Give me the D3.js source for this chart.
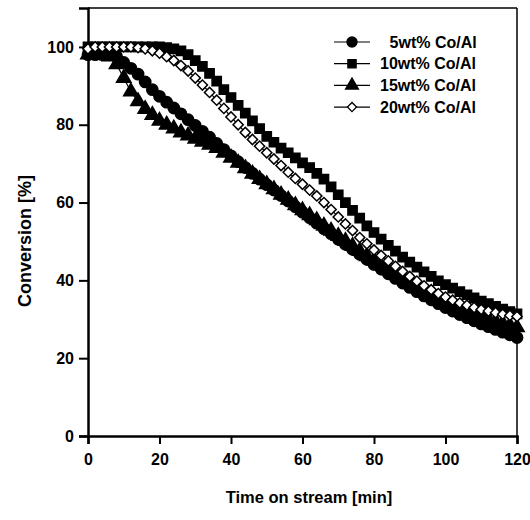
<!DOCTYPE html>
<html>
<head>
<meta charset="utf-8">
<script src="https://cdn.jsdelivr.net/npm/d3@7"></script>
<style>
  body { margin: 0; background: #fff; }
  text { font-family: "Liberation Sans", Arial, sans-serif; font-weight: bold; fill: #000; }
</style>
</head>
<body>
<svg id="chart" width="530" height="520"></svg>
<script>
// time on stream, minutes (one point every 2 min)
var times = d3.range(0, 121, 2);

var co5 = [98, 98, 98, 98, 97.5, 96, 94.5, 93, 91, 89,
  87.3, 85.8, 84.3, 82.8, 81.3, 79.8, 78.3, 76.8, 75.2, 73.6,
  72, 70.5, 69, 67.5, 66, 64.6, 63.2, 61.8, 60.4, 58.9,
  57.5, 56.1, 54.7, 53.3, 52, 50.6, 49.3, 48, 46.7, 45.4,
  44.1, 42.9, 41.7, 40.5, 39.3, 38.2, 37.1, 36, 35, 34,
  33, 32.1, 31.2, 30.4, 29.6, 28.8, 28.1, 27.4, 26.7, 26, 25.3];

var co10 = [100, 100, 100, 100, 100, 100, 100, 100, 100, 100,
  100, 99.8, 99.5, 99, 98, 96.5, 95, 93.2, 91.2, 89,
  87, 85, 83, 81, 79, 77, 75.5, 74, 72.8, 71.5,
  70.2, 69, 67.5, 66, 64, 62, 60, 58, 56, 54,
  52.3, 50.6, 49, 47.5, 46, 44.7, 43.4, 42.2, 41, 39.9,
  38.9, 38, 37.1, 36.3, 35.5, 34.7, 34, 33.3, 32.6, 32, 31.4];

var co15 = [98, 98, 98, 97.5, 95.5, 92, 88.5, 86, 84, 82.5,
  81, 80, 79, 78, 77.2, 76.4, 75.6, 74.8, 74, 72.8,
  71.5, 70.2, 68.8, 67.4, 66, 64.7, 63.4, 62, 60.7, 59.3,
  58, 56.7, 55.4, 54, 52.7, 51.4, 50.1, 48.8, 47.5, 46.2,
  45, 43.8, 42.6, 41.5, 40.4, 39.3, 38.3, 37.3, 36.3, 35.4,
  34.5, 33.7, 32.9, 32.1, 31.4, 30.7, 30.1, 29.5, 28.9, 28.4, 27.9];

var co20 = [99.5, 100, 100, 100, 100, 100, 100, 99.8, 99.5, 99,
  98.4, 97.5, 96.5, 95.2, 93.8, 92, 90.2, 88.3, 86.3, 84.2,
  82, 80, 78, 76.2, 74.5, 72.8, 71.2, 69.5, 67.8, 66.2,
  64.7, 63.2, 61.7, 60, 58.2, 56.3, 54.5, 52.8, 51, 49.4,
  47.8, 46.4, 45, 43.6, 42.3, 41, 39.8, 38.6, 37.6, 36.6,
  35.7, 34.9, 34.2, 33.6, 33, 32.5, 32.1, 31.7, 31.3, 31, 30.7];

var seriesNames = ["5wt% Co/Al", "10wt% Co/Al", "15wt% Co/Al", "20wt% Co/Al"];
var xTicks = [0, 20, 40, 60, 80, 100, 120];
var yTicks = [0, 20, 40, 60, 80, 100];

// diamond drawn as a square turned 45deg
var series = [
  {name: seriesNames[0], values: co5,  shape: d3.symbolCircle,   size: 100, rot: 0,  filled: true},
  {name: seriesNames[1], values: co10, shape: d3.symbolSquare,   size: 85,  rot: 0,  filled: true},
  {name: seriesNames[2], values: co15, shape: d3.symbolTriangle, size: 90,  rot: 0,  filled: true},
  {name: seriesNames[3], values: co20, shape: d3.symbolSquare,   size: 52,  rot: 45, filled: false}
];

var svg = d3.select("#chart");
var margin = {top: 8, right: 13, bottom: 84, left: 88};
var W = 530 - margin.left - margin.right;
var H = 520 - margin.top - margin.bottom;

var x = d3.scaleLinear().domain([0, 120]).range([0, W]);
var y = d3.scaleLinear().domain([0, 110]).range([H, 0]);

var g = svg.append("g").attr("transform", "translate(" + margin.left + "," + margin.top + ")");

// frame (top + right)
g.append("line").attr("x1", 0).attr("x2", W).attr("y1", 0).attr("y2", 0)
  .attr("stroke", "#000").attr("stroke-width", 1.5);
g.append("line").attr("x1", W).attr("x2", W).attr("y1", 0).attr("y2", H)
  .attr("stroke", "#000").attr("stroke-width", 1.5);

var xAxis = g.append("g").attr("transform", "translate(0," + H + ")")
  .call(d3.axisBottom(x).tickValues(xTicks).tickSize(8).tickPadding(10));
var yAxis = g.append("g")
  .call(d3.axisLeft(y).tickValues(yTicks).tickSize(9).tickPadding(5));

[xAxis, yAxis].forEach(function(a){
  a.select(".domain").attr("stroke-width", 2.5);
  a.selectAll(".tick line").attr("stroke-width", 2);
  a.selectAll(".tick text").style("font-size", "16px").attr("font-family", null);
});

// series
var line = d3.line()
  .x(function(d, i){ return x(times[i]); })
  .y(function(d){ return y(d); });

series.forEach(function(s){
  g.append("path").datum(s.values)
    .attr("fill", "none").attr("stroke", "#000").attr("stroke-width", 1.2)
    .attr("d", line);
  g.selectAll(null).data(s.values).enter().append("path")
    .attr("d", d3.symbol().type(s.shape).size(s.size))
    .attr("transform", function(d, i){
      return "translate(" + x(times[i]) + "," + y(d) + ") rotate(" + s.rot + ")";
    })
    .attr("fill", s.filled ? "#000" : "#fff")
    .attr("stroke", "#000").attr("stroke-width", 1.5);
});

// legend
var legend = svg.append("g");
series.forEach(function(s, i){
  var ly = 42 + i * 21.7;
  legend.append("line").attr("x1", 334).attr("x2", 370).attr("y1", ly).attr("y2", ly)
    .attr("stroke", "#000").attr("stroke-width", 1.2);
  legend.append("path")
    .attr("d", d3.symbol().type(s.shape).size(s.size * 0.8))
    .attr("transform", "translate(352," + ly + ") rotate(" + s.rot + ")")
    .attr("fill", s.filled ? "#000" : "#fff")
    .attr("stroke", "#000").attr("stroke-width", 1.3);
  legend.append("text").attr("x", 380).attr("y", ly).attr("dy", "0.35em")
    .attr("dx", i === 0 ? "0.6em" : 0)
    .style("font-size", "16px").text(s.name);
});

// axis titles
svg.append("text").attr("x", 309).attr("y", 503)
  .attr("text-anchor", "middle").style("font-size", "16.5px").text("Time on stream [min]");
svg.append("text").attr("transform", "translate(31,241) rotate(-90)")
  .attr("text-anchor", "middle").style("font-size", "18px").text("Conversion [%]");
</script>
</body>
</html>
